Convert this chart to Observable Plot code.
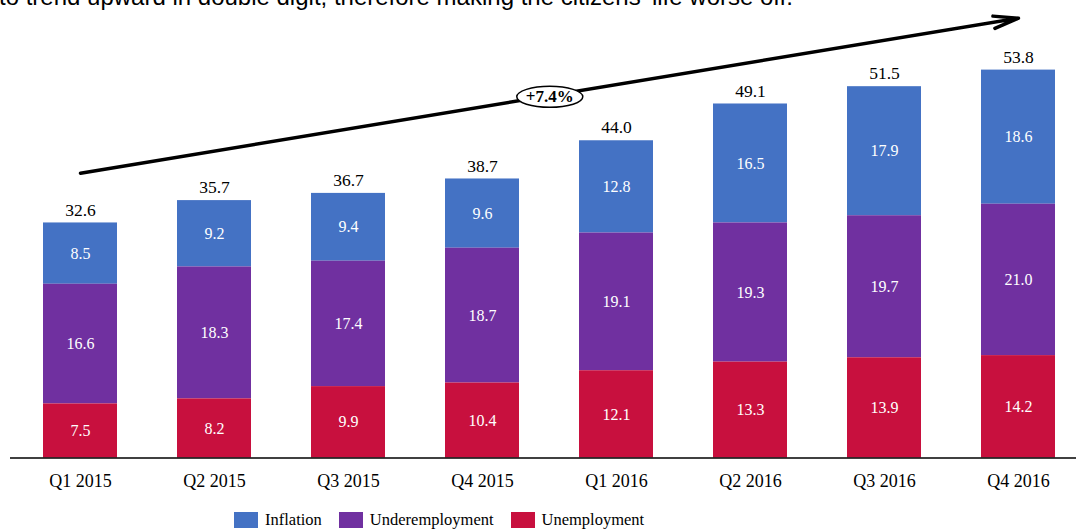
<!DOCTYPE html>
<html>
<head>
<meta charset="utf-8">
<script src="https://cdn.jsdelivr.net/npm/d3@7"></script>
<script src="https://cdn.jsdelivr.net/npm/@observablehq/plot@0.6"></script>
<style>
  html, body { margin: 0; padding: 0; background: #fff; width: 1076px; height: 530px; overflow: hidden; }
  #wrap { position: relative; width: 1076px; height: 530px; overflow: hidden; }
  #topnote { position: absolute; left: -1px; top: -17px; font-family: "Liberation Sans", Arial, sans-serif; font-size: 24px; line-height: 27px; color: #000; white-space: nowrap; }
  #chart { position: absolute; left: 0; top: 0; }
  #legend { position: absolute; left: 234px; top: 510px; display: flex; align-items: center; font-family: "Liberation Serif", "Times New Roman", serif; font-size: 16.5px; color: #000; }
  .sw { width: 24px; height: 16px; display: inline-block; margin-right: 7px; }
  .item { display: flex; align-items: center; margin-right: 17px; }
</style>
</head>
<body>
<div id="wrap">
  <div id="chart"></div>
  <div id="topnote">to trend upward in double digit, therefore making the citizens' life worse off.</div>
  <div id="legend"></div>
</div>
<script>
const quarters = ["Q1 2015","Q2 2015","Q3 2015","Q4 2015","Q1 2016","Q2 2016","Q3 2016","Q4 2016"];
const inflation = [8.5, 9.2, 9.4, 9.6, 12.8, 16.5, 17.9, 18.6];
const underemployment = [16.6, 18.3, 17.4, 18.7, 19.1, 19.3, 19.7, 21.0];
const unemployment = [7.5, 8.2, 9.9, 10.4, 12.1, 13.3, 13.9, 14.2];
const totals = [32.6, 35.7, 36.7, 38.7, 44.0, 49.1, 51.5, 53.8];
const seriesNames = ["Inflation", "Underemployment", "Unemployment"];
const seriesColors = ["#4472C4", "#7030A0", "#C8103E"];
const growthLabel = "+7.4%";
const trendStart = {q: "Q1 2015", v: 39.5};
const trendEnd = {q: "Q4 2016", v: 61.0};
const growthAnchor = {q: "Q4 2015", v: 50.1};

const seriesValues = [inflation, underemployment, unemployment];
const rows = [];
quarters.forEach((q, i) => {
  seriesNames.forEach((s, j) => rows.push({quarter: q, series: s, value: seriesValues[j][i]}));
});
const totalRows = quarters.map((q, i) => ({quarter: q, total: totals[i]}));
const stackOrder = ["Unemployment", "Underemployment", "Inflation"];

const ellipse = {
  draw(ctx) {
    const rx = 33, ry = 10.5, k = 0.5523;
    ctx.moveTo(rx, 0);
    ctx.bezierCurveTo(rx, ry * k, rx * k, ry, 0, ry);
    ctx.bezierCurveTo(-rx * k, ry, -rx, ry * k, -rx, 0);
    ctx.bezierCurveTo(-rx, -ry * k, -rx * k, -ry, 0, -ry);
    ctx.bezierCurveTo(rx * k, -ry, rx, -ry * k, rx, 0);
    ctx.closePath();
  }
};

const halfStep = (1057 - 41) / (quarters.length - 0.45) / 2;

const plot = Plot.plot({
  width: 1076,
  height: 500,
  marginLeft: 10,
  marginRight: 0,
  marginTop: 24.9,
  marginBottom: 42.5,
  style: {fontFamily: "'Liberation Serif', 'Times New Roman', serif", fontSize: "17px", color: "#000", background: "transparent"},
  x: {type: "band", domain: quarters, range: [41, 1057], paddingInner: 0.45, paddingOuter: 0, align: 0.5, axis: null},
  y: {domain: [0, 60], axis: null},
  color: {domain: seriesNames, range: seriesColors},
  marks: [
    Plot.barY(rows, Plot.stackY({x: "quarter", y: "value", fill: "series", order: stackOrder})),
    Plot.text(rows, Plot.stackY({x: "quarter", y: "value", z: "series", order: stackOrder, text: d => d.value.toFixed(1), fill: "white", fontSize: 16})),
    Plot.text(totalRows, {x: "quarter", y: "total", text: d => d.total.toFixed(1), dy: -13, fill: "black", fontSize: 17.5}),
    Plot.ruleY([0], {stroke: "black", strokeWidth: 1.5}),
    Plot.axisX({tickSize: 0, tickPadding: 16, fontSize: 18, fill: "black"}),
    Plot.arrow([{}], {x1: () => trendStart.q, y1: () => trendStart.v, x2: () => trendEnd.q, y2: () => trendEnd.v, stroke: "black", strokeWidth: 3.5, headLength: 11, headAngle: 28}),
    Plot.dot([growthAnchor], {x: "q", y: "v", dx: halfStep, symbol: ellipse, r: 10, fill: "white", stroke: "black", strokeWidth: 1.5}),
    Plot.text([growthAnchor], {x: "q", y: "v", dx: halfStep, text: () => growthLabel, fontWeight: "bold", fontSize: 17, fill: "black"})
  ]
});
document.getElementById("chart").appendChild(plot);

const legend = document.getElementById("legend");
seriesNames.forEach((s, i) => {
  const item = document.createElement("div");
  item.className = "item";
  const sw = document.createElement("span");
  sw.className = "sw";
  sw.style.background = seriesColors[i];
  const t = document.createElement("span");
  t.textContent = s;
  item.appendChild(sw);
  item.appendChild(t);
  legend.appendChild(item);
});
</script>
</body>
</html>
